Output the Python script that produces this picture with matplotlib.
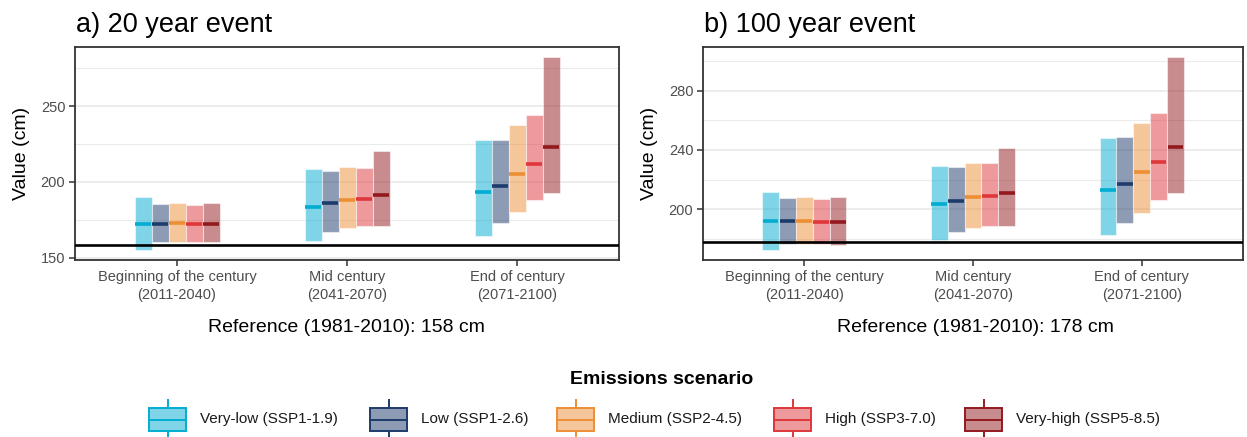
import numpy as np
import matplotlib.pyplot as plt
from matplotlib.patches import Rectangle
from matplotlib.ticker import MultipleLocator

plt.rcParams['font.family'] = ['Liberation Sans', 'DejaVu Sans']

# Periods on the x axis and the five emissions scenarios
periods = ["Beginning of the century\n(2011-2040)",
           "Mid century\n(2041-2070)",
           "End of century\n(2071-2100)"]
scenarios = ["Very-low (SSP1-1.9)", "Low (SSP1-2.6)", "Medium (SSP2-4.5)",
             "High (SSP3-7.0)", "Very-high (SSP5-8.5)"]
colors = ["#01ADD1", "#1D3B6B", "#ED8F35", "#DF373B", "#93191F"]

# 20 year event: rows = period, columns = scenario (cm)
low_20 = [[154.8, 160.1, 160.0, 160.0, 160.0],
          [160.8, 166.8, 169.4, 170.7, 170.7],
          [164.1, 172.7, 180.0, 188.0, 192.6]]
med_20 = [[172.3, 172.2, 172.6, 172.0, 172.0],
          [183.5, 186.0, 188.2, 189.0, 191.3],
          [193.5, 197.4, 205.4, 212.0, 222.8]]
high_20 = [[189.9, 185.3, 186.0, 184.4, 186.0],
           [208.5, 207.2, 209.8, 209.2, 220.4],
           [227.7, 227.7, 237.6, 244.2, 282.6]]
ref_20 = 158

# 100 year event
low_100 = [[172.2, 176.5, 176.5, 176.5, 175.8],
           [179.0, 184.4, 187.1, 188.5, 188.5],
           [182.4, 190.5, 197.3, 206.1, 210.8]]
med_100 = [[191.9, 191.9, 192.3, 191.4, 191.4],
           [203.2, 205.6, 208.1, 208.8, 210.8],
           [213.1, 216.9, 225.1, 231.9, 242.2]]
high_100 = [[211.5, 207.5, 208.1, 206.8, 208.1],
            [229.2, 228.5, 231.2, 231.2, 241.4],
            [248.1, 248.8, 258.3, 265.1, 303.0]]
ref_100 = 178

W, H = 1247, 437
fig = plt.figure(figsize=(W / 100, H / 100), dpi=100)


def px(x, y):
    # pixel position (from top-left) to figure fraction
    return x / W, 1 - y / H


def panel(rect, lo, med, hi, ref, major, title, ylab_x, xlab_x):
    ax = fig.add_axes(rect)
    lo, med, hi = np.array(lo), np.array(med), np.array(hi)
    bw = 0.1
    for j, c in enumerate(colors):
        xs = np.arange(len(periods)) + (j - 2) * bw
        ax.bar(xs, hi[:, j] - lo[:, j], bottom=lo[:, j], width=bw,
               color=c, alpha=0.5, edgecolor="white", linewidth=0.8, zorder=2)
        ax.hlines(med[:, j], xs - bw / 2 + 0.004, xs + bw / 2 - 0.004,
                  colors=c, linewidth=2.6, zorder=3)
    ax.axhline(ref, color="black", linewidth=1.9, zorder=4)

    span = hi.max() - lo.min()
    ax.set_ylim(lo.min() - 0.05 * span, hi.max() + 0.05 * span)
    ax.set_xlim(-0.6, len(periods) - 0.4)
    ax.yaxis.set_major_locator(MultipleLocator(major))
    ax.yaxis.set_minor_locator(MultipleLocator(major / 2))
    ax.set_xticks(range(len(periods)))
    ax.set_xticklabels(periods, linespacing=1.35)

    ax.grid(which="major", axis="y", color="#ebebeb", linewidth=1.3, zorder=0)
    ax.grid(which="minor", axis="y", color="#ebebeb", linewidth=0.8, zorder=0)
    ax.set_axisbelow(True)
    ax.tick_params(which="major", length=4, width=1.1, color="#333333",
                   labelcolor="#4d4d4d", labelsize=10.5, pad=3)
    ax.tick_params(which="minor", length=0)
    for s in ax.spines.values():
        s.set_color("#333333")
        s.set_linewidth(1.3)

    tx, ty = px(rect[0] * W + 1, 32)
    fig.text(tx, ty, title, fontsize=19.5, va="baseline", ha="left")
    yx, yy = px(ylab_x, 153.5)
    fig.text(yx, yy, "Value (cm)", rotation=90, fontsize=14,
             ha="center", va="center")
    xx, xy = px(xlab_x, 327)
    fig.text(xx, xy, f"Reference (1981-2010): {ref} cm", fontsize=14,
             ha="center", va="center")
    return ax


bottom, top = 1 - 260 / H, 1 - 47 / H
panel([75 / W, bottom, 544 / W, top - bottom], low_20, med_20, high_20,
      ref_20, 50, "a) 20 year event", 22, 346)
panel([703 / W, bottom, 540 / W, top - bottom], low_100, med_100, high_100,
      ref_100, 40, "b) 100 year event", 650, 975)

# legend drawn in pixel space across the bottom
leg = fig.add_axes([0, 0, 1, 1], zorder=-1)
leg.set_xlim(0, W)
leg.set_ylim(H, 0)
leg.axis("off")
leg.text(662, 379, "Emissions scenario", fontsize=14, fontweight="bold",
         ha="center", va="center")
key_x = [149, 370, 557, 774, 965]
for kx, c, lab in zip(key_x, colors, scenarios):
    leg.add_patch(Rectangle((kx, 408), 37, 23, facecolor=c, alpha=0.5,
                            edgecolor="none"))
    leg.add_patch(Rectangle((kx, 408), 37, 23, facecolor="none",
                            edgecolor=c, linewidth=1.4))
    leg.plot([kx, kx + 37], [419.5, 419.5], color=c, linewidth=1.4)
    leg.plot([kx + 18.5, kx + 18.5], [400, 408], color=c, linewidth=1.4)
    leg.plot([kx + 18.5, kx + 18.5], [431, 438], color=c, linewidth=1.4)
    leg.text(kx + 51, 419.5, lab, fontsize=11, color="#1a1a1a",
             ha="left", va="center")

fig.savefig("out.png", dpi=100)
